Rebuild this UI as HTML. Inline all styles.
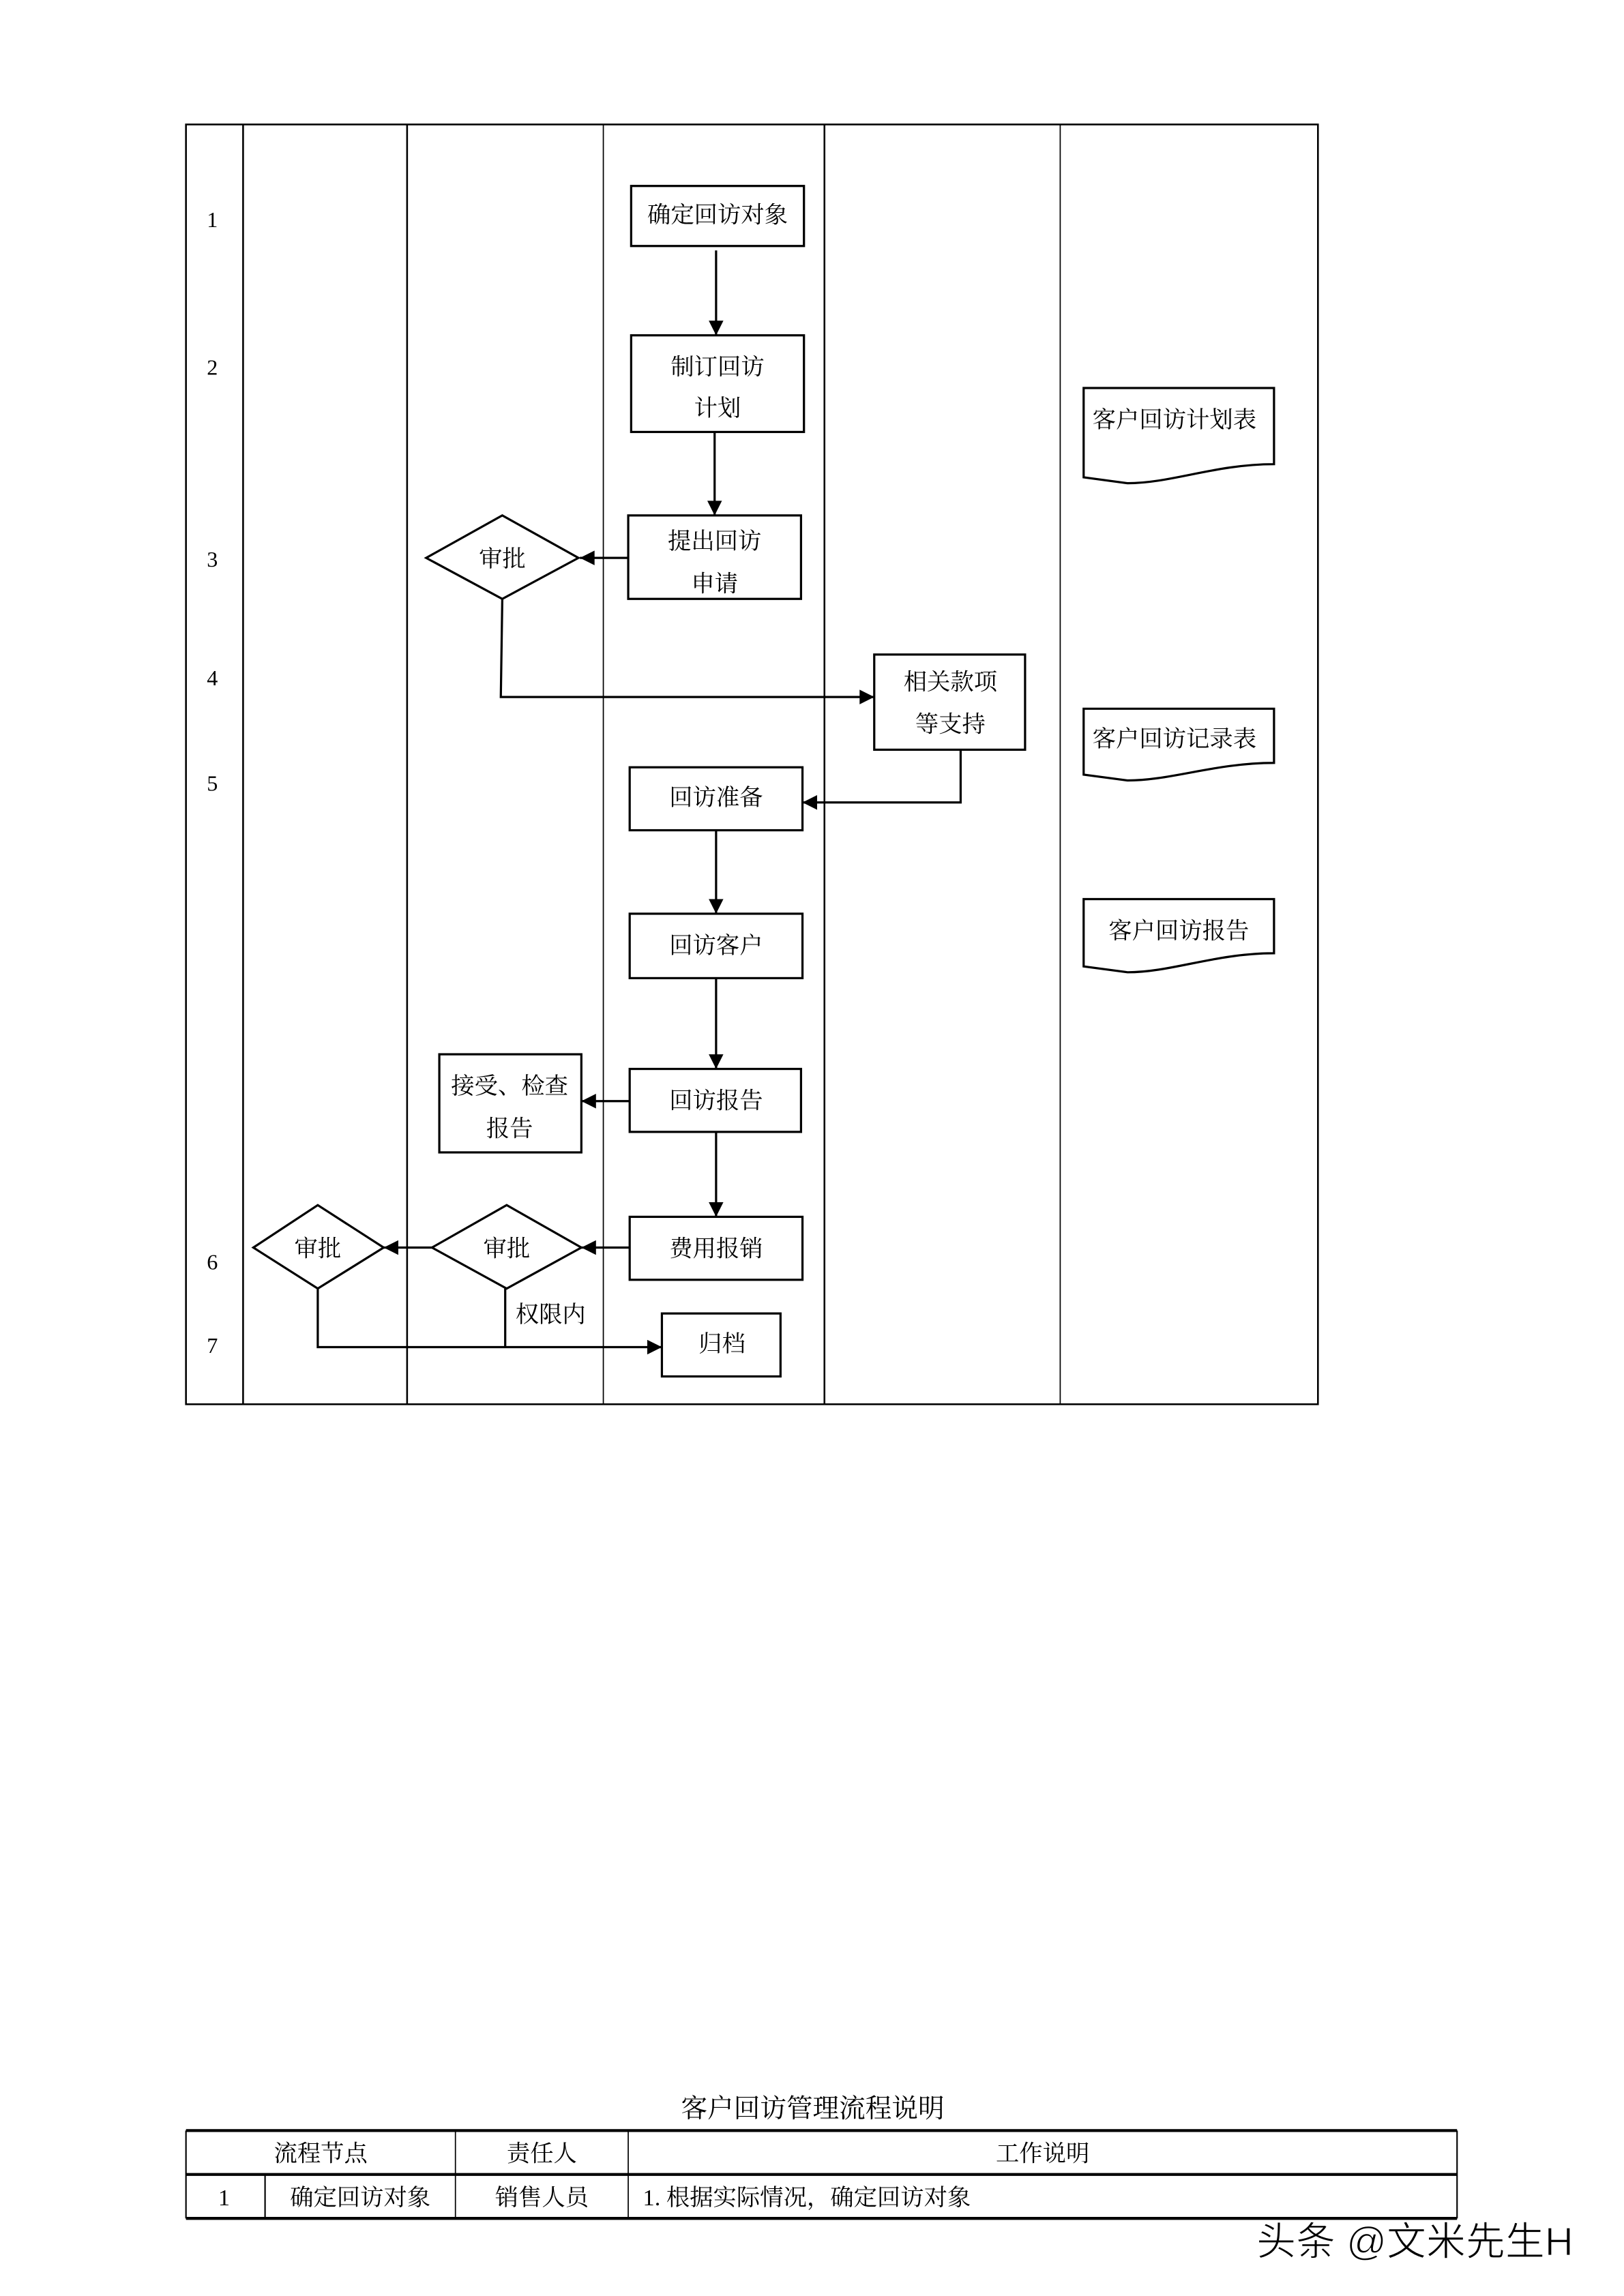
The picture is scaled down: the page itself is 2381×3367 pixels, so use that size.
<!DOCTYPE html>
<html><head><meta charset="utf-8"><style>
html,body{margin:0;padding:0;background:#fff;}
svg{display:block;}
text{font-family:"Liberation Serif","Noto Serif CJK SC",serif;fill:#000;}
</style></head><body>
<svg width="2381" height="3367" viewBox="0 0 1109 1568" preserveAspectRatio="none" xmlns="http://www.w3.org/2000/svg">
<defs>
<marker id="ar" viewBox="0 0 10 10" refX="10" refY="5" markerWidth="11" markerHeight="10" markerUnits="userSpaceOnUse" orient="auto">
<path d="M0,0 L10,5 L0,10 z" fill="#000"/>
</marker>
</defs>
<g fill="none" stroke="#000" stroke-width="1.2">
<rect x="127" y="85" width="773" height="874"/>
<line x1="166" y1="85" x2="166" y2="959"/>
<line x1="278" y1="85" x2="278" y2="959"/>
<line x1="412" y1="85" x2="412" y2="959" stroke-width="0.8"/>
<line x1="563" y1="85" x2="563" y2="959"/>
<line x1="724" y1="85" x2="724" y2="959" stroke-width="0.8"/>
</g>
<g font-size="15" text-anchor="middle">
<text x="145" y="155">1</text>
<text x="145" y="256">2</text>
<text x="145" y="387">3</text>
<text x="145" y="468">4</text>
<text x="145" y="540">5</text>
<text x="145" y="867">6</text>
<text x="145" y="924">7</text>
</g>
<g fill="#fff" stroke="#000" stroke-width="1.5">
<rect x="431" y="127" width="118" height="41"/>
<rect x="431" y="229" width="118" height="66"/>
<rect x="429" y="352" width="118" height="57"/>
<polygon points="291,381 343,352 395,381 343,409"/>
<rect x="597" y="447" width="103" height="65"/>
<rect x="430" y="524" width="118" height="43"/>
<rect x="430" y="624" width="118" height="44"/>
<rect x="430" y="730" width="117" height="43"/>
<rect x="300" y="720" width="97" height="67"/>
<rect x="430" y="831" width="118" height="43"/>
<polygon points="295,852 346,823 397,852 346,880"/>
<polygon points="173,852 217,823 262,852 217,880"/>
<rect x="452" y="897" width="81" height="43"/>
<path d="M740,265 L870,265 L870,317 C830,317 800,330 770,330 L740,326 Z"/>
<path d="M740,484 L870,484 L870,521 C830,521 800,533 770,533 L740,529 Z"/>
<path d="M740,614 L870,614 L870,651 C830,651 800,664 770,664 L740,660 Z"/>
</g>
<g fill="none" stroke="#000" stroke-width="1.5" marker-end="url(#ar)">
<line x1="489" y1="171" x2="489" y2="229"/>
<line x1="488" y1="295" x2="488" y2="352"/>
<line x1="429" y1="381" x2="396" y2="381"/>
<polyline points="343,409 342,476 597,476"/>
<polyline points="656,512 656,548 548,548"/>
<line x1="489" y1="567" x2="489" y2="624"/>
<line x1="489" y1="668" x2="489" y2="730"/>
<line x1="430" y1="752" x2="397" y2="752"/>
<line x1="489" y1="773" x2="489" y2="831"/>
<line x1="430" y1="852" x2="397" y2="852"/>
<line x1="295" y1="852" x2="262" y2="852"/>
<polyline points="217,880 217,920 452,920"/>
</g>
<line x1="345" y1="880" x2="345" y2="920" stroke="#000" stroke-width="1.5"/>
<g font-size="16" text-anchor="middle">
<text x="490" y="152">确定回访对象</text>
<text x="490" y="256">制订回访</text>
<text x="490" y="284">计划</text>
<text x="488" y="375">提出回访</text>
<text x="488" y="404">申请</text>
<text x="343" y="387">审批</text>
<text x="649" y="471">相关款项</text>
<text x="649" y="500">等支持</text>
<text x="489" y="550">回访准备</text>
<text x="489" y="651">回访客户</text>
<text x="489" y="757">回访报告</text>
<text x="348" y="747">接受、检查</text>
<text x="348" y="776">报告</text>
<text x="489" y="858">费用报销</text>
<text x="346" y="858">审批</text>
<text x="217" y="858">审批</text>
<text x="376" y="903">权限内</text>
<text x="493" y="923">归档</text>
<text x="802" y="292">客户回访计划表</text>
<text x="802" y="510">客户回访记录表</text>
<text x="805" y="641">客户回访报告</text>
</g>
<text x="555" y="1446" font-size="18" text-anchor="middle">客户回访管理流程说明</text>
<g stroke="#000" fill="none">
<line x1="127" y1="1455" x2="995" y2="1455" stroke-width="2"/>
<line x1="127" y1="1485" x2="995" y2="1485" stroke-width="2"/>
<line x1="127" y1="1515" x2="995" y2="1515" stroke-width="2"/>
<line x1="127" y1="1455" x2="127" y2="1515" stroke-width="1"/>
<line x1="995" y1="1455" x2="995" y2="1515" stroke-width="1"/>
<line x1="181" y1="1485" x2="181" y2="1515" stroke-width="1"/>
<line x1="311" y1="1455" x2="311" y2="1515" stroke-width="0.8"/>
<line x1="429" y1="1455" x2="429" y2="1515" stroke-width="0.8"/>
</g>
<g font-size="16">
<text x="219" y="1476" text-anchor="middle">流程节点</text>
<text x="370" y="1476" text-anchor="middle">责任人</text>
<text x="712" y="1476" text-anchor="middle">工作说明</text>
<text x="153" y="1506" text-anchor="middle">1</text>
<text x="246" y="1506" text-anchor="middle">确定回访对象</text>
<text x="370" y="1506" text-anchor="middle">销售人员</text>
<text x="439" y="1506">1. 根据实际情况，确定回访对象</text>
</g>
<text x="858" y="1540" font-size="27" style='font-family:"Liberation Sans","Noto Sans CJK SC",sans-serif' fill="#111" stroke="#fff" stroke-width="0.6">头条 @文米先生H</text>
</svg>
</body></html>
